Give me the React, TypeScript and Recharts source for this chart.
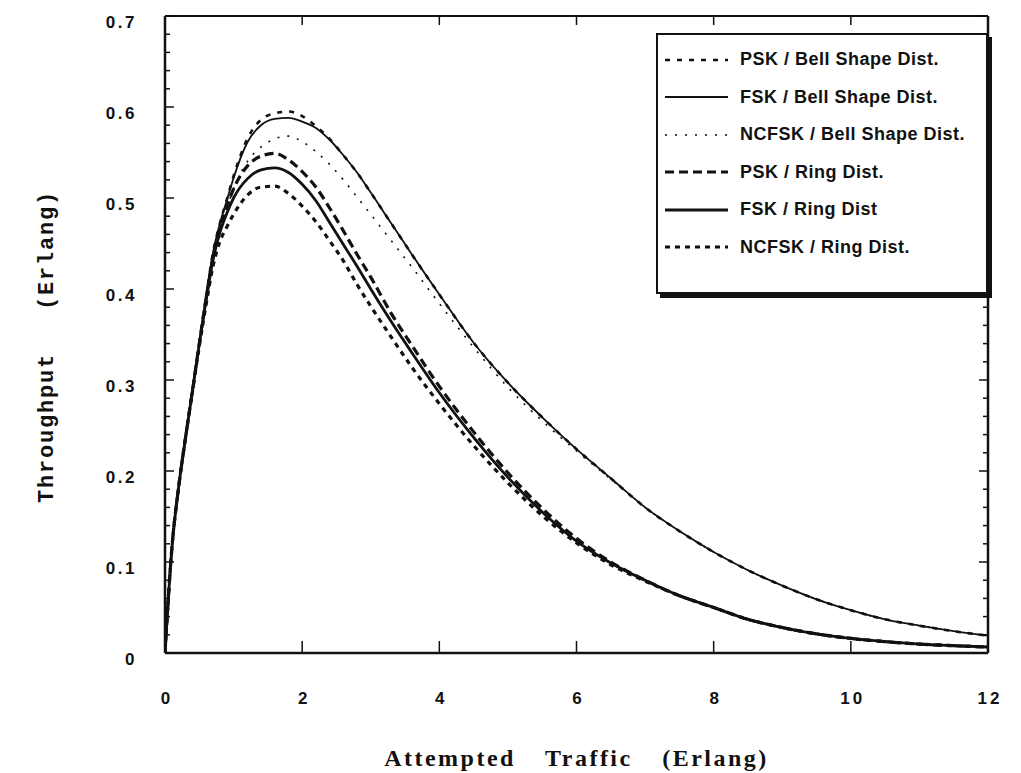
import React from 'react'
import { LineChart, Line, XAxis, YAxis, Legend, Label } from 'recharts'

// attempted traffic (Erlang) sample points
const traffic = [
  0, 0.1, 0.2, 0.3, 0.4, 0.5, 0.6, 0.7, 0.8, 0.9, 1.0, 1.2, 1.4, 1.6, 1.8, 2.0, 2.2, 2.4, 2.6, 2.8,
  3.0, 3.3, 3.6, 4.0, 4.5, 5.0, 5.5, 6.0, 6.5, 7.0, 7.5, 8.0, 8.5, 9.0, 9.5, 10.0, 10.5, 11.0, 11.5, 12.0,
]

const pskBell = [
  0, 0.115, 0.183, 0.237, 0.288, 0.34, 0.392, 0.44, 0.472, 0.498, 0.524, 0.565, 0.586, 0.593, 0.595, 0.59,
  0.579, 0.565, 0.547, 0.528, 0.506, 0.472, 0.438, 0.394, 0.341, 0.297, 0.259, 0.224, 0.192, 0.16, 0.134,
  0.111, 0.091, 0.074, 0.059, 0.047, 0.037, 0.03, 0.024, 0.019,
]
const fskBell = [
  0, 0.115, 0.183, 0.237, 0.288, 0.34, 0.392, 0.44, 0.472, 0.497, 0.522, 0.561, 0.58, 0.587, 0.588, 0.584,
  0.577, 0.564, 0.547, 0.528, 0.506, 0.472, 0.438, 0.394, 0.341, 0.297, 0.259, 0.224, 0.192, 0.16, 0.134,
  0.111, 0.091, 0.074, 0.059, 0.047, 0.037, 0.03, 0.024, 0.019,
]
const ncfskBell = [
  0, 0.115, 0.183, 0.237, 0.288, 0.34, 0.39, 0.435, 0.466, 0.489, 0.51, 0.54, 0.556, 0.565, 0.568, 0.562,
  0.551, 0.537, 0.52, 0.501, 0.482, 0.453, 0.424, 0.384, 0.336, 0.292, 0.255, 0.222, 0.191, 0.16, 0.134,
  0.111, 0.091, 0.074, 0.059, 0.047, 0.037, 0.03, 0.024, 0.019,
]
const pskRing = [
  0, 0.115, 0.183, 0.237, 0.288, 0.34, 0.39, 0.435, 0.466, 0.49, 0.51, 0.535, 0.546, 0.549, 0.542, 0.529,
  0.512, 0.489, 0.464, 0.438, 0.413, 0.373, 0.338, 0.293, 0.243, 0.198, 0.159, 0.126, 0.1, 0.08, 0.063,
  0.05, 0.037, 0.028, 0.021, 0.016, 0.0125, 0.0098, 0.008, 0.0066,
]
const fskRing = [
  0, 0.115, 0.183, 0.237, 0.288, 0.34, 0.388, 0.432, 0.462, 0.483, 0.5, 0.521, 0.531, 0.533, 0.528, 0.515,
  0.497, 0.473, 0.449, 0.425, 0.4, 0.364, 0.33, 0.286, 0.237, 0.193, 0.155, 0.123, 0.099, 0.08, 0.063,
  0.05, 0.037, 0.028, 0.021, 0.016, 0.0125, 0.0098, 0.008, 0.0066,
]
const ncfskRing = [
  0, 0.115, 0.183, 0.237, 0.287, 0.337, 0.383, 0.425, 0.452, 0.468, 0.482, 0.503, 0.512, 0.513, 0.505, 0.491,
  0.474, 0.453, 0.431, 0.405, 0.381, 0.347, 0.314, 0.274, 0.228, 0.187, 0.151, 0.121, 0.097, 0.079, 0.063,
  0.05, 0.037, 0.028, 0.021, 0.016, 0.0125, 0.0098, 0.008, 0.0066,
]

const xTicks = [0, 2, 4, 6, 8, 10, 12]
const topTicks = [2, 4, 6, 8, 10]
const yMajor = [0, 0.1, 0.2, 0.3, 0.4, 0.5, 0.6, 0.7]
const yTicks = Array.from({ length: 36 }, (_, i) => Math.round(i * 2) / 100)

const series = [
  { key: 'pskBell', name: 'PSK / Bell Shape Dist.', width: 2.6, dash: '5 7' },
  { key: 'fskBell', name: 'FSK / Bell Shape Dist.', width: 1.8, dash: undefined },
  { key: 'ncfskBell', name: 'NCFSK / Bell Shape Dist.', width: 1.6, dash: '2 8' },
  { key: 'pskRing', name: 'PSK / Ring Dist.', width: 3.2, dash: '9 5' },
  { key: 'fskRing', name: 'FSK / Ring Dist', width: 2.8, dash: undefined },
  { key: 'ncfskRing', name: 'NCFSK / Ring Dist.', width: 3.2, dash: '5 5' },
]

const values: Record<string, number[]> = { pskBell, fskBell, ncfskBell, pskRing, fskRing, ncfskRing }

const data = traffic.map((x, i) => {
  const row: Record<string, number> = { x }
  series.forEach((s) => (row[s.key] = values[s.key][i]))
  return row
})

const INK = '#111'
const SANS = '"Liberation Sans", Arial, sans-serif'

const isMajor = (v: number) => yMajor.some((m) => Math.abs(m - v) < 1e-6)

const LEFT_GAP = 28

function LeftTick(props: any) {
  const x = Number(props.x)
  const y = Number(props.y)
  const v = Number(props.payload.value)
  const major = isMajor(v)
  const ax = x + LEFT_GAP
  return (
    <g>
      <path d={`M${ax},${y}H${ax + (major ? 9 : 5)}`} stroke={INK} strokeWidth={1.5} fill="none" />
      {major && (
        <text x={x} y={y + 6} dy="0.35em" textAnchor="end" fontFamily={SANS} fontWeight="bold" fontSize={17} letterSpacing={2.5} fill={INK}>
          {v === 0 ? '0' : v.toFixed(1)}
        </text>
      )}
    </g>
  )
}

function RightTick(props: any) {
  const x = Number(props.x)
  const y = Number(props.y)
  const major = isMajor(Number(props.payload.value))
  return <path d={`M${x},${y}H${x - (major ? 9 : 5)}`} stroke={INK} strokeWidth={1.5} fill="none" />
}

const BOTTOM_GAP = 45

function BottomTick(props: any) {
  const x = Number(props.x)
  const y = Number(props.y)
  const v = Number(props.payload.value)
  const ay = y - BOTTOM_GAP
  return (
    <g>
      {v > 0 && v < 12 && <path d={`M${x},${ay}V${ay - 12}`} stroke={INK} strokeWidth={1.5} fill="none" />}
      <text x={x + 2} y={y} dy="0.35em" textAnchor="middle" fontFamily={SANS} fontWeight="bold" fontSize={17} letterSpacing={3} fill={INK}>
        {v}
      </text>
    </g>
  )
}

function TopTick(props: any) {
  const x = Number(props.x)
  const y = Number(props.y)
  const v = Number(props.payload.value)
  if (v <= 0 || v >= 12) return <g />
  return <path d={`M${x},${y}V${y + 9}`} stroke={INK} strokeWidth={1.5} fill="none" />
}

function LegendBox() {
  return (
    <div
      style={{
        width: 328,
        height: 251,
        border: `2px solid ${INK}`,
        boxShadow: `4px 4px 0 ${INK}`,
        background: '#fff',
        paddingTop: 6,
        boxSizing: 'content-box',
      }}
    >
      {series.map((s) => (
        <div key={s.key} style={{ height: 37.5, display: 'flex', alignItems: 'center' }}>
          <svg width={70} height={10} style={{ marginLeft: 7, flex: 'none' }}>
            <line x1={0} x2={63} y1={5} y2={5} stroke={INK} strokeWidth={s.width} strokeDasharray={s.dash} />
          </svg>
          <span style={{ marginLeft: 5, fontFamily: SANS, fontWeight: 'bold', fontSize: 18, letterSpacing: 0.5, color: INK, whiteSpace: 'nowrap' }}>
            {s.name}
          </span>
        </div>
      ))}
    </div>
  )
}

export default function App() {
  return (
    <div style={{ position: 'absolute', left: 0, top: 0, width: 1021, height: 773, background: '#fff' }}>
      <LineChart width={1021} height={773} data={data} margin={{ top: 15, right: 32, bottom: 0, left: 0 }}>
        <XAxis
          dataKey="x"
          type="number"
          domain={[0, 12]}
          ticks={xTicks}
          interval={0}
          allowDataOverflow
          height={120}
          tickSize={0}
          tickMargin={BOTTOM_GAP}
          tickLine={false}
          axisLine={{ stroke: INK, strokeWidth: 2.5 }}
          tick={BottomTick}
        >
          <Label
            content={({ viewBox }: any) => (
              <text
                x={viewBox.x + viewBox.width / 2}
                y={viewBox.y + 113}
                textAnchor="middle"
                fontFamily='"Liberation Serif", "Times New Roman", serif'
                fontWeight="bold"
                fontSize={24}
                letterSpacing={2.5}
                wordSpacing={21}
                fill={INK}
              >
                Attempted Traffic (Erlang)
              </text>
            )}
          />
        </XAxis>
        <XAxis
          xAxisId="top"
          orientation="top"
          dataKey="x"
          type="number"
          domain={[0, 12]}
          ticks={topTicks}
          interval={0}
          allowDataOverflow
          height={1}
          tickSize={0}
          tickMargin={0}
          tickLine={false}
          axisLine={{ stroke: INK, strokeWidth: 2 }}
          tick={TopTick}
        />
        <YAxis
          type="number"
          domain={[0, 0.7]}
          ticks={yTicks}
          interval={0}
          allowDataOverflow
          width={165}
          tickSize={0}
          tickMargin={LEFT_GAP}
          tickLine={false}
          axisLine={{ stroke: INK, strokeWidth: 2.5 }}
          tick={LeftTick}
        >
          <Label
            content={({ viewBox }: any) => {
              const cx = viewBox.x + 45
              const cy = viewBox.y + viewBox.height / 2 + 12
              return (
                <text
                  x={cx}
                  y={cy}
                  transform={`rotate(-90 ${cx} ${cy})`}
                  dy="0.35em"
                  textAnchor="middle"
                  fontFamily='"Liberation Mono", "Courier New", monospace'
                  fontWeight="bold"
                  fontSize={22}
                  letterSpacing={1.8}
                  wordSpacing={28}
                  fill={INK}
                >
                  Throughput (Erlang)
                </text>
              )
            }}
          />
        </YAxis>
        <YAxis
          yAxisId="right"
          orientation="right"
          type="number"
          domain={[0, 0.7]}
          ticks={yTicks}
          interval={0}
          allowDataOverflow
          width={1}
          tickSize={0}
          tickMargin={0}
          tickLine={false}
          axisLine={{ stroke: INK, strokeWidth: 2.5 }}
          tick={RightTick}
        />
        {series.map((s) => (
          <Line
            key={s.key}
            type="monotone"
            dataKey={s.key}
            name={s.name}
            stroke={INK}
            strokeWidth={s.width}
            strokeDasharray={s.dash}
            dot={false}
            activeDot={false}
            isAnimationActive={false}
          />
        ))}
        {/* invisible copy so the top and right frame axes get a domain */}
        <Line
          xAxisId="top"
          yAxisId="right"
          type="monotone"
          dataKey="fskBell"
          stroke="none"
          dot={false}
          activeDot={false}
          legendType="none"
          isAnimationActive={false}
        />
        <Legend
          layout="horizontal"
          verticalAlign="middle"
          align="center"
          content={<LegendBox />}
          wrapperStyle={{ position: 'absolute', left: 656, top: 33, width: 340, height: 270 }}
        />
      </LineChart>
    </div>
  )
}
